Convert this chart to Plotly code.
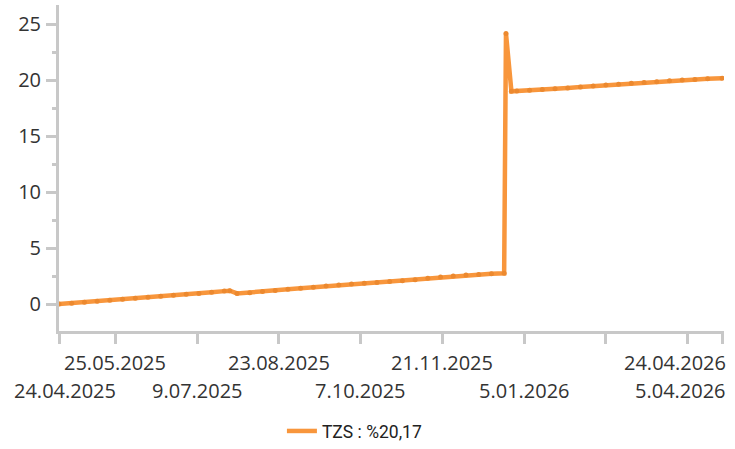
import plotly.graph_objects as go

# TZS cumulative change (%), weekly readings plus the late-December jump
dates = [
    "2025-04-24", "2025-05-01", "2025-05-08", "2025-05-15", "2025-05-22", "2025-05-29",
    "2025-06-05", "2025-06-12", "2025-06-19", "2025-06-26", "2025-07-03", "2025-07-10",
    "2025-07-17", "2025-07-24", "2025-07-27", "2025-07-31", "2025-08-07", "2025-08-14",
    "2025-08-21", "2025-08-28", "2025-09-04", "2025-09-11", "2025-09-18", "2025-09-25",
    "2025-10-02", "2025-10-09", "2025-10-16", "2025-10-23", "2025-10-30", "2025-11-06",
    "2025-11-13", "2025-11-20", "2025-11-27", "2025-12-04", "2025-12-11", "2025-12-18",
    "2025-12-25", "2025-12-26", "2025-12-29", "2026-01-01", "2026-01-08", "2026-01-15",
    "2026-01-22", "2026-01-29", "2026-02-05", "2026-02-12", "2026-02-19", "2026-02-26",
    "2026-03-05", "2026-03-12", "2026-03-19", "2026-03-26", "2026-04-02", "2026-04-09",
    "2026-04-16", "2026-04-24",
]
tzs = [
    0.00, 0.08, 0.17, 0.26, 0.34, 0.43,
    0.52, 0.61, 0.70, 0.79, 0.87, 0.95,
    1.05, 1.16, 1.20, 0.95, 1.02, 1.12,
    1.22, 1.32, 1.42, 1.51, 1.61, 1.70,
    1.79, 1.86, 1.93, 2.01, 2.09, 2.18,
    2.30, 2.42, 2.52, 2.60, 2.65, 2.70,
    2.75, 24.15, 19.00, 19.02, 19.08, 19.15,
    19.23, 19.30, 19.38, 19.46, 19.55, 19.63,
    19.71, 19.79, 19.86, 19.93, 20.00, 20.06,
    20.12, 20.17,
]

# x-axis tick dates and their labels (two alternating rows)
tick_dates = ["2025-04-24", "2025-05-25", "2025-07-09", "2025-08-23", "2025-10-07",
              "2025-11-21", "2026-01-05", "2026-02-19", "2026-04-05", "2026-04-24"]
upper_labels = [("2025-05-25", "25.05.2025"), ("2025-08-23", "23.08.2025"),
                ("2025-11-21", "21.11.2025"), ("2026-04-24", "24.04.2026")]
lower_labels = [("2025-04-24", "24.04.2025"), ("2025-07-09", "9.07.2025"),
                ("2025-10-07", "7.10.2025"), ("2026-01-05", "5.01.2026"),
                ("2026-04-05", "5.04.2026")]

series_name = "TZS : %20,17"
line_color = "#f8963c"
dot_color = "#ec892f"
axis_color = "#c8c8c8"
text_color = "#333333"
tick_font = dict(family="Open Sans", size=20, color=text_color)

fig = go.Figure()
fig.add_trace(go.Scatter(
    x=dates, y=tzs, mode="lines", name=series_name,
    line=dict(color=line_color, width=4.5),
))
fig.add_trace(go.Scatter(
    x=dates, y=tzs, mode="markers", showlegend=False, hoverinfo="skip",
    marker=dict(color=dot_color, size=5),
))

# edge labels are nudged so they stay inside the page
shift_map = {"24.04.2025": ("center", 6), "24.04.2026": ("right", 6), "5.04.2026": ("right", 40)}
annotations = []
for rows, yshift in ((upper_labels, -31), (lower_labels, -59)):
    for d, txt in rows:
        anchor, xs = shift_map.get(txt, ("center", 0))
        annotations.append(dict(
            x=d, xref="x", y=0, yref="paper", text=txt, showarrow=False,
            xanchor=anchor, yanchor="middle", xshift=xs, yshift=yshift, font=tick_font,
        ))

fig.update_layout(
    width=735, height=449,
    margin=dict(l=59, r=11, t=5, b=118, autoexpand=False),
    paper_bgcolor="white", plot_bgcolor="white",
    showlegend=True,
    legend=dict(
        orientation="h", x=0.445, xanchor="center", y=-0.307, yanchor="middle",
        font=dict(family="Roboto", size=17.5, color="#222222"),
        bgcolor="rgba(0,0,0,0)",
    ),
    annotations=annotations,
)
fig.update_xaxes(
    type="date", range=["2025-04-24", "2026-04-25"], automargin=False,
    showgrid=False, zeroline=False,
    showline=True, linecolor=axis_color, linewidth=3,
    tickmode="array", tickvals=tick_dates, ticktext=[""] * len(tick_dates),
    ticks="outside", ticklen=10, tickwidth=3, tickcolor=axis_color,
)
fig.update_yaxes(
    range=[-2.4, 26.7], automargin=False,
    showgrid=False, zeroline=False,
    showline=True, linecolor=axis_color, linewidth=3,
    tickmode="array", tickvals=[0, 5, 10, 15, 20, 25],
    ticks="outside", ticklen=10, tickwidth=3, tickcolor=axis_color,
    tickfont=tick_font, ticklabelstandoff=1,
    minor=dict(tickvals=[-2.5, 2.5, 7.5, 12.5, 17.5, 22.5], ticks="outside",
               ticklen=4, tickwidth=3, tickcolor=axis_color),
)

fig.write_html("out.html")
